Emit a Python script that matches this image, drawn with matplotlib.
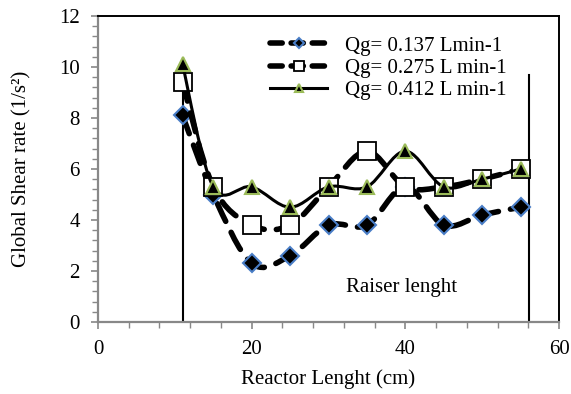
import matplotlib
matplotlib.use("Agg")
import matplotlib.pyplot as plt
from matplotlib.path import Path
from matplotlib.patches import PathPatch
from matplotlib.lines import Line2D
from matplotlib.ticker import MultipleLocator
import numpy as np

plt.rcParams['font.family'] = ['Liberation Serif', 'DejaVu Serif']

x_cm = [11, 15, 20, 25, 30, 35, 40, 45, 50, 55]
q0137 = [8.1, 5.0, 2.3, 2.6, 3.8, 3.8, 5.3, 3.8, 4.2, 4.5]
q0275 = [9.4, 5.3, 3.8, 3.8, 5.3, 6.7, 5.3, 5.3, 5.6, 6.0]
q0412 = [10.1, 5.3, 5.3, 4.5, 5.3, 5.3, 6.7, 5.3, 5.6, 6.0]
labels = ["Qg= 0.137 Lmin-1", "Qg= 0.275 L min-1", "Qg= 0.412 L min-1"]
riser_x = [11, 56.1]
riser_top = 9.7
riser_text = "Raiser lenght"


def smooth_path(xs, ys):
    p = np.column_stack([xs, ys]).astype(float)
    n = len(p)
    verts = [p[0]]
    codes = [Path.MOVETO]
    for i in range(n - 1):
        p0 = p[i - 1] if i > 0 else p[i]
        p1 = p[i]
        p2 = p[i + 1]
        p3 = p[i + 2] if i + 2 < n else p[i + 1]
        c1 = p1 + (p2 - p0) / 6.0
        c2 = p2 - (p3 - p1) / 6.0
        verts += [c1, c2, p2]
        codes += [Path.CURVE4] * 3
    return Path(verts, codes)


fig = plt.figure(figsize=(5.71, 3.94), dpi=100)
ax = fig.add_axes([98 / 571, 1 - 322 / 394, 461 / 571, 306 / 394])
ax.set_xlim(0, 60)
ax.set_ylim(0, 12)

styles = [
    dict(ls=(0, (3.5, 2.2)), lw=4.0, marker='D', ms=9, mfc='black', mec='#4A7EC7', mew=1.5),
    dict(ls=(0, (3.5, 2.2)), lw=4.0, marker='s', ms=13, mfc='white', mec='black', mew=1.3),
    dict(ls='-', lw=2.2, marker='^', ms=9.5, mfc='black', mec='#9BBB59', mew=1.5),
]
leg_styles = [(0, (2.2, 1.6)), (0, (2.2, 1.6)), '-']
series = [q0137, q0275, q0412]
handles = []
for k, (ys, st) in enumerate(zip(series, styles)):
    patch = PathPatch(smooth_path(x_cm, ys), fill=False, edgecolor='black',
                      lw=st['lw'], linestyle=st['ls'], capstyle='round', zorder=2 + 2 * k)
    ax.add_patch(patch)
    ax.plot(x_cm, ys, linestyle='none', marker=st['marker'], ms=st['ms'],
            mfc=st['mfc'], mec=st['mec'], mew=st['mew'], zorder=3 + 2 * k)
    handles.append(Line2D([], [], color='black', lw=st['lw'], linestyle=leg_styles[k],
                          dash_capstyle='round', marker=st['marker'], ms=st['ms'] * 0.6,
                          mfc=st['mfc'], mec=st['mec'], mew=st['mew']))

for xv in riser_x:
    ax.plot([xv, xv], [0, riser_top], color='black', lw=1.5, zorder=1)
ax.text(39.5, 1.35, riser_text, fontsize=15, ha='center', va='center')

ax.legend(handles, labels, loc='upper left', bbox_to_anchor=(0.347, 0.975),
          frameon=False, fontsize=15, handlelength=2.7, handletextpad=0.9,
          labelspacing=0.12, borderaxespad=0.2)

ax.xaxis.set_major_locator(MultipleLocator(20))
ax.xaxis.set_minor_locator(MultipleLocator(4))
ax.yaxis.set_major_locator(MultipleLocator(2))
ax.yaxis.set_minor_locator(MultipleLocator(0.4))
ax.tick_params(axis='both', which='both', direction='out', color='#888888', labelsize=15)
ax.tick_params(which='major', length=5, width=1.2)
ax.tick_params(which='minor', length=4, width=1.0)
ax.tick_params(axis='x', pad=8)
ax.tick_params(axis='y', pad=8)
for s in ['left', 'bottom']:
    ax.spines[s].set_color('#888888')
    ax.spines[s].set_linewidth(1.6)
for s in ['top', 'right']:
    ax.spines[s].set_color('black')
    ax.spines[s].set_linewidth(1.4)

ax.set_xlabel("Reactor Lenght (cm)", fontsize=15, labelpad=7)
ax.set_ylabel("Global Shear rate (1/s²)", fontsize=15, labelpad=20)

fig.savefig("out.png", dpi=100)
